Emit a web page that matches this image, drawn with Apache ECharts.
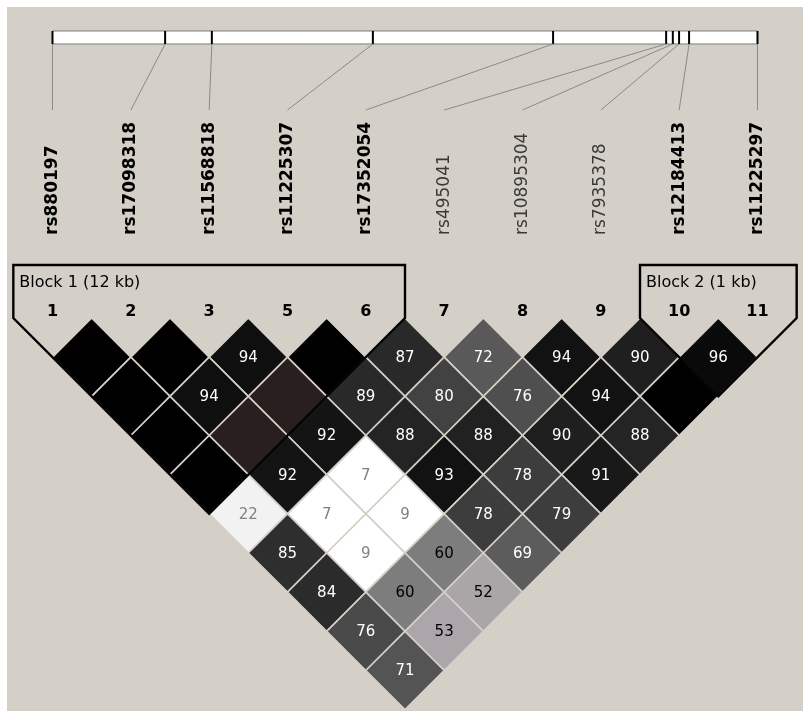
<!DOCTYPE html>
<html><head><meta charset="utf-8">
<script src="https://cdn.jsdelivr.net/npm/echarts@6/dist/echarts.min.js"></script>
<style>html,body{margin:0;padding:0;background:#fff}#c{width:812px;height:720px}</style>
</head><body><div id="c"></div>
<script>
// ---------- DATA ----------
const markerNums = ['1','2','3','5','6','7','8','9','10','11'];
const snpIds = ['rs880197','rs17098318','rs11568818','rs11225307','rs17352054','rs495041','rs10895304','rs7935378','rs12184413','rs11225297'];
const snpPosKb = [0, 2.70, 3.82, 7.68, 12.00, 14.71, 14.87, 15.02, 15.26, 16.90];
const inBlock = [true,true,true,true,true,false,false,false,true,true];
const blockNames = ['Block 1 (12 kb)', 'Block 2 (1 kb)'];
const blockFirst = [0, 8];
const blockLast = [4, 9];
// D' x100, row d holds pairs (i, i+d+1); null = 100 (not printed)
const dprimeRows = [
  [null, null, 94, null, 87, 72, 94, 90, 96],
  [null, 94, null, 89, 80, 76, 94, null],
  [null, null, 92, 88, 88, 90, 88],
  [null, 92, 7, 93, 78, 91],
  [22, 7, 9, 78, 79],
  [85, 9, 60, 69],
  [84, 60, 52],
  [76, 53],
  [71]
];
// r-squared (shading), same layout
const r2Rows = [
  [1, 1, 0.94, 1, 0.84, 0.65, 0.93, 0.88, 0.96],
  [1, 0.94, 0.85, 0.84, 0.74, 0.69, 0.93, 1],
  [1, 0.85, 0.92, 0.86, 0.87, 0.88, 0.86],
  [1, 0.92, 0, 0.93, 0.76, 0.90],
  [0.05, 0, 0, 0.76, 0.76],
  [0.82, 0, 0.51, 0.64],
  [0.83, 0.51, 0.33],
  [0.71, 0.33],
  [0.67]
];

// ---------- LAYOUT / STYLE ----------
const BG = '#d4d0c8';
const BAR_TOP = -3.664, BAR_BOT = -3.498, LINE_END = -2.655, LABEL_BASE = -1.06;
const NUM_Y = -0.08, BLOCK_TOP = -0.677, BLOCK_LABEL_Y = -0.447;
const tintOverride = { '2,4': '#2a1f1f', '1,4': '#2a1f1f', '2,9': '#aaa6a8', '1,9': '#aca6aa' };

const n = markerNums.length;
const p0 = snpPosKb[0], pN = snpPosKb[n - 1];
const physIdx = snpPosKb.map(p => (p - p0) / (pN - p0) * (n - 1));

const cells = [];
dprimeRows.forEach((row, d) => row.forEach((v, i) => {
  cells.push({ i: i, j: i + d + 1, dp: v, r2: r2Rows[d][i] });
}));

function grayOf(r2) { const g = Math.round(255 * (1 - r2)); return [g, 'rgb(' + g + ',' + g + ',' + g + ')']; }

const chart = echarts.init(document.getElementById('c'));
chart.setOption({
  backgroundColor: '#ffffff',
  animation: false,
  graphic: [{ type: 'rect', z: -1, shape: { x: 7, y: 7, width: 796, height: 704 }, style: { fill: BG } }],
  grid: { left: 13.33, width: 783.33, top: 4.67, height: 705, show: false },
  xAxis: { type: 'value', min: -0.5, max: 9.5, show: false },
  yAxis: { type: 'value', min: -4, max: 5, inverse: true, show: false },
  series: [
    { // physical map bar
      type: 'custom', z: 2, silent: true,
      data: [[0, n - 1]],
      renderItem: function (params, api) {
        const a = api.coord([api.value(0), BAR_TOP]), b = api.coord([api.value(1), BAR_BOT]);
        return { type: 'rect', shape: { x: a[0], y: a[1], width: b[0] - a[0], height: b[1] - a[1] },
          style: { fill: '#ffffff', stroke: '#7c7c7c', lineWidth: 1 } };
      }
    },
    { // markers: ticks, connectors, names, numbers
      type: 'custom', z: 3, silent: true,
      data: markerNums.map((m, k) => [k, physIdx[k]]),
      renderItem: function (params, api) {
        const k = api.value(0), ph = api.value(1);
        const t1 = api.coord([ph, BAR_TOP]), t2 = api.coord([ph, BAR_BOT]);
        const l2 = api.coord([k, LINE_END]);
        const lab = api.coord([k, LABEL_BASE]);
        const num = api.coord([k, NUM_Y]);
        const bold = inBlock[k];
        return { type: 'group', children: [
          { type: 'line', shape: { x1: t1[0], y1: t1[1], x2: t2[0], y2: t2[1] }, style: { stroke: '#000', lineWidth: 2 } },
          { type: 'line', shape: { x1: t2[0], y1: t2[1], x2: l2[0], y2: l2[1] }, style: { stroke: '#8a8a8a', lineWidth: 1 } },
          { type: 'text', x: lab[0], y: lab[1], rotation: Math.PI / 2,
            style: { text: snpIds[k], fill: bold ? '#000' : '#3a3a3a', font: (bold ? 'bold ' : '') + '17px "DejaVu Sans"', align: 'left', verticalAlign: 'middle' } },
          { type: 'text', x: num[0], y: num[1],
            style: { text: markerNums[k], fill: '#000', font: 'bold 16px "DejaVu Sans"', align: 'center', verticalAlign: 'middle' } }
        ] };
      }
    },
    { // LD diamonds
      type: 'custom', z: 4, silent: true,
      data: cells.map(c => [(c.i + c.j) / 2, (c.j - c.i) / 2]),
      encode: { x: 0, y: 1 },
      renderItem: function (params, api) {
        const c = cells[params.dataIndex];
        const cx = api.value(0), cy = api.value(1);
        const pts = [[cx - 0.5, cy], [cx, cy - 0.5], [cx + 0.5, cy], [cx, cy + 0.5]].map(p => api.coord(p));
        const gg = grayOf(c.r2);
        const fill = tintOverride[c.i + ',' + c.j] || gg[1];
        const ctr = api.coord([cx, cy]);
        const txtFill = gg[0] < 110 ? '#ffffff' : (gg[0] < 225 ? '#000000' : '#808080');
        const children = [{ type: 'polygon', shape: { points: pts }, style: { fill: fill, stroke: BG, lineWidth: 1.6 } }];
        if (c.dp !== null) {
          children.push({ type: 'text', x: ctr[0], y: ctr[1] + 1,
            style: { text: String(c.dp), fill: txtFill, font: '15px "DejaVu Sans"', align: 'center', verticalAlign: 'middle' } });
        }
        return { type: 'group', children: children };
      }
    },
    { // haplotype blocks
      type: 'custom', z: 5, silent: true,
      data: blockNames.map((b, k) => [blockFirst[k], blockLast[k]]),
      renderItem: function (params, api) {
        const a = api.value(0), b = api.value(1);
        const pts = [[a - 0.5, BLOCK_TOP], [b + 0.5, BLOCK_TOP], [b + 0.5, 0], [(a + b) / 2, (b - a) / 2 + 0.5], [a - 0.5, 0]].map(p => api.coord(p));
        const lp = api.coord([a - 0.5, BLOCK_LABEL_Y]);
        return { type: 'group', children: [
          { type: 'polygon', shape: { points: pts }, style: { fill: 'none', stroke: '#000', lineWidth: 2.4 } },
          { type: 'text', x: lp[0] + 6, y: lp[1],
            style: { text: blockNames[params.dataIndex], fill: '#000', font: '16px "DejaVu Sans"', align: 'left', verticalAlign: 'middle' } }
        ] };
      }
    }
  ]
});
</script></body></html>
